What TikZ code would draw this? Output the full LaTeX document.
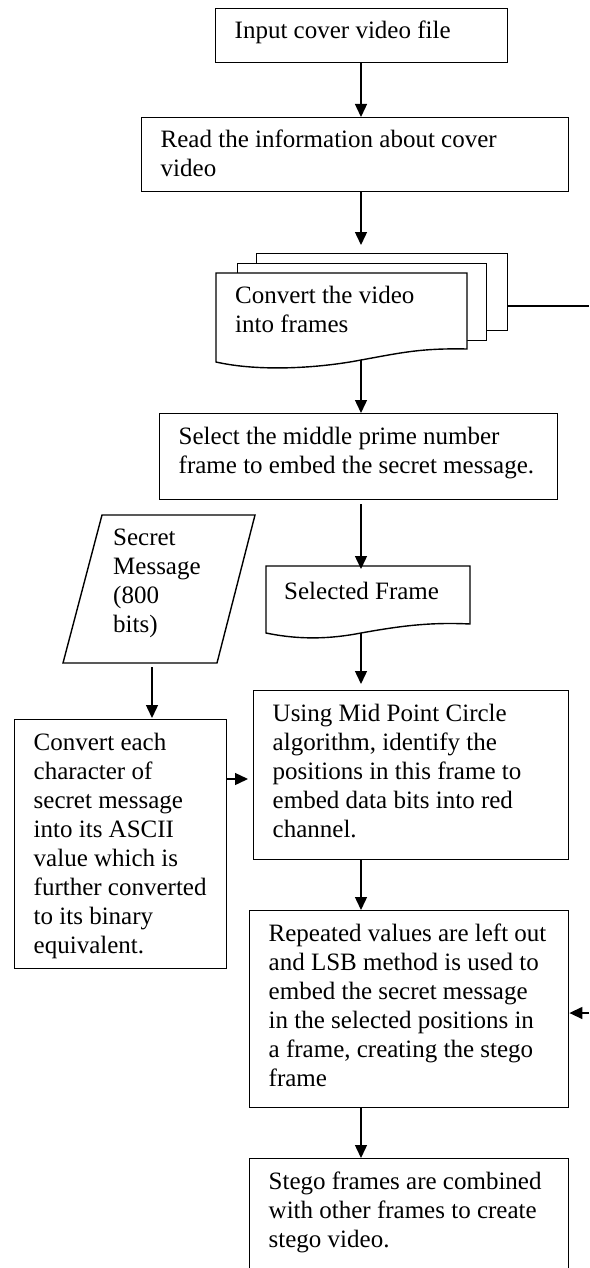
\documentclass[tikz,border=0pt]{standalone}
\usepackage{fontspec}
\setmainfont{Liberation Serif}
\usetikzlibrary{calc, positioning, arrows.meta}

% top-aligned text block of fixed size
\newcommand{\flowtext}[3]{\begin{minipage}[t][#2][t]{#1}\raggedright\strut#3\end{minipage}}

\tikzset{
  procbox/.style={draw, line width=1.4pt, fill=white, anchor=north west, inner xsep=19pt, inner ysep=10pt},
  plaintext/.style={anchor=north west, inner sep=0pt},
  flow/.style={line width=1.4pt, -{Triangle[length=13pt, width=12pt]}},
  edge/.style={line width=1.4pt}
}

\begin{document}
\begin{tikzpicture}[x=1pt, y=1pt, every node/.style={font=\fontsize{25pt}{29pt}\selectfont}]
  \useasboundingbox (0,0) rectangle (589,-1268);
  \coordinate (spine) at (361,0);

  % main column
  \node[procbox] (input) at (215,-8) {\flowtext{254pt}{34pt}{Input cover video file}};
  \node[procbox] (readinfo) at (141,-117) {\flowtext{389pt}{54pt}{Read the information about cover\\video}};

  % stacked frames (multi-document)
  \node[draw, edge, fill=white, anchor=north west, minimum width=251pt, minimum height=77pt] (layerback) at (256,-253) {};
  \node[draw, edge, fill=white, anchor=north west, minimum width=249pt, minimum height=77pt] (layermid) at (237,-263) {};
  \draw[edge, fill=white] (216,-273) -- (467,-273) -- (467,-349)
    .. controls (420,-348) and (400,-353) .. (361,-360)
    .. controls (320,-368) and (260,-372) .. (216,-362) -- cycle;
  \coordinate (framesbot) at (361,-360);
  \node[plaintext] (frames) at (235,-283) {\flowtext{220pt}{60pt}{Convert the video\\into frames}};

  \node[procbox] (select) at (159,-413) {\flowtext{360pt}{66pt}{Select the middle prime number\\frame to embed the secret message.}};

  % single document
  \draw[edge, fill=white] (266,-566) -- (470,-566) -- (470,-624)
    .. controls (430,-622) and (400,-626) .. (361,-633)
    .. controls (330,-639) and (300,-640) .. (266,-633) -- cycle;
  \coordinate (selbot) at (361,-633);
  \node[plaintext] (selframe) at (284,-579) {\flowtext{180pt}{30pt}{Selected Frame}};

  \node[procbox] (midpoint) at (253,-690) {\flowtext{277pt}{149pt}{Using Mid Point Circle\\algorithm, identify the\\positions in this frame to\\embed data bits into red\\channel.}};
  \node[procbox] (embed) at (249,-910) {\flowtext{281pt}{177pt}{Repeated values are left out\\and LSB method is used to\\embed the secret message\\in the selected positions in\\a frame, creating the stego\\frame}};
  \node[procbox] (stego) at (249,-1158) {\flowtext{281pt}{120pt}{Stego frames are combined\\with other frames to create\\stego video.}};

  % message branch
  \draw[edge] (102,-515) -- (255,-515) -- (217,-663) -- (63,-663) -- cycle;
  \coordinate (secretbot) at (152,-663);
  \node[plaintext] (secret) at (113,-525) {\flowtext{110pt}{116pt}{Secret\\Message\\(800\\bits)}};
  \node[procbox] (convert) at (14,-719) {\flowtext{174pt}{229pt}{Convert each\\character of\\secret message\\into its ASCII\\value which is\\further converted\\to its binary\\equivalent.}};

  % connectors
  \draw[flow] (spine |- input.south) -- (spine |- readinfo.north);
  \draw[flow, shorten >=8pt] (spine |- readinfo.south) -- (spine |- layerback.north);
  \draw[flow] (framesbot) -- (spine |- select.north);
  \draw[flow, shorten <=4pt, shorten >=10pt] (spine |- select.south) -- (spine |- selframe.north);
  \draw[flow, shorten >=6pt] (selbot) -- (spine |- midpoint.north);
  \draw[flow] (spine |- midpoint.south) -- (spine |- embed.north);
  \draw[flow] (spine |- embed.south) -- (spine |- stego.north);
  \draw[flow, shorten <=4pt, shorten >=1pt] (secretbot) -- (secretbot |- convert.north);
  \draw[flow, shorten >=5pt] (convert.east |- 0,-779) -- (midpoint.west |- 0,-779);

  % loop on the right edge
  \coordinate (loopout) at (589,-306);
  \coordinate (loopin) at (589,-1013);
  \draw[edge] (layerback.east |- loopout) -- (loopout);
  \draw[flow] (loopin) -- (embed.east |- loopin);
\end{tikzpicture}
\end{document}
